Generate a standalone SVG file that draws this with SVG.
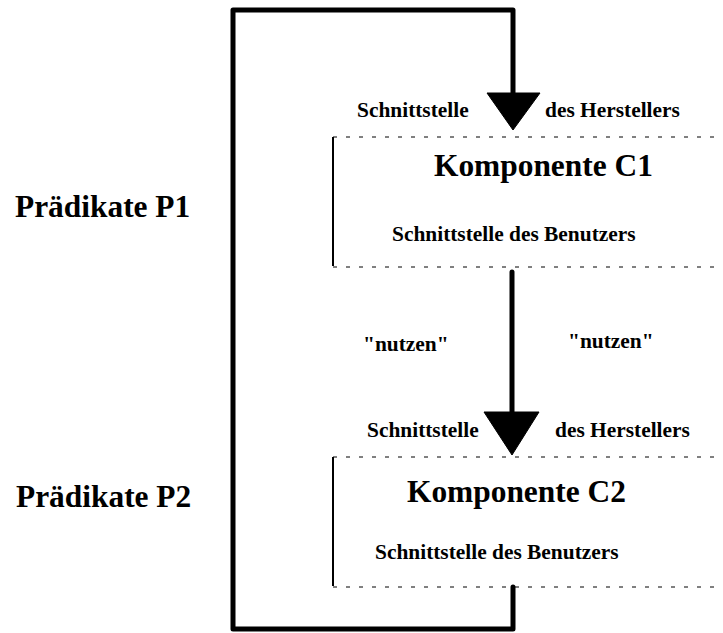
<svg xmlns="http://www.w3.org/2000/svg" width="723" height="633" viewBox="0 0 723 633">
<style>
  .t { font-family: "Liberation Serif", "Times New Roman", serif; font-weight: bold; fill: #000; }
  .big { font-size: 31.4px; }
  .sm { font-size: 21.4px; }
  .dash { stroke: #000; stroke-width: 1; stroke-dasharray: 4 9; fill: none; }
  .side { stroke: #000; stroke-width: 2; fill: none; }
  .wire { stroke: #000; stroke-width: 5; fill: none; stroke-linecap: round; stroke-linejoin: round; }
  .head { fill: #000; stroke: #000; stroke-width: 1; stroke-linejoin: miter; }
</style>
<rect width="723" height="633" fill="#fff"/>

<g id="connectors">
  <path class="wire" d="M513,587 L513,629 L233,629 L233,10 L513,10 L513,93"/>
  <polygon class="head" points="487,93 540,93 513,130"/>
  <path class="wire" d="M512,272 L512,412"/>
  <polygon class="head" points="484,412 539,412 512,455"/>
</g>

<g id="pred-p1">
  <text class="t big" x="15" y="217">Prädikate P1</text>
</g>
<g id="pred-p2">
  <text class="t big" x="16" y="507">Prädikate P2</text>
</g>

<g id="comp-c1">
  <line class="dash" x1="333" y1="137" x2="723" y2="137"/>
  <line class="dash" x1="333" y1="267" x2="723" y2="267"/>
  <line class="side" x1="333" y1="137" x2="333" y2="266"/>
  <text class="t sm" x="357" y="117">Schnittstelle</text>
  <text class="t sm" x="545" y="117">des Herstellers</text>
  <text class="t big" x="434" y="176">Komponente C1</text>
  <text class="t sm" x="392" y="241">Schnittstelle des Benutzers</text>
</g>

<g id="usage-labels">
  <text class="t sm" x="363" y="351">"nutzen"</text>
  <text class="t sm" x="568" y="348">"nutzen"</text>
</g>

<g id="comp-c2">
  <line class="dash" x1="333" y1="457" x2="723" y2="457"/>
  <line class="dash" x1="333" y1="587" x2="723" y2="587"/>
  <line class="side" x1="333" y1="457" x2="333" y2="586"/>
  <text class="t sm" x="367" y="437">Schnittstelle</text>
  <text class="t sm" x="555" y="437">des Herstellers</text>
  <text class="t big" x="407" y="502">Komponente C2</text>
  <text class="t sm" x="375" y="559">Schnittstelle des Benutzers</text>
</g>
</svg>
